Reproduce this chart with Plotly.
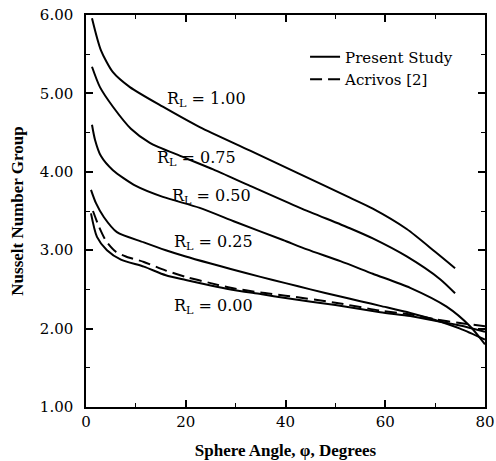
import plotly.graph_objects as go

# ---- data ----
phi_r100 = [1.2, 3.0, 5.4, 8.8, 15.4, 22.8, 32.9, 42.9, 52.9, 57.5, 64.3, 70.0, 74.0]
nu_r100 = [5.96, 5.55, 5.27, 5.08, 4.83, 4.57, 4.27, 3.97, 3.67, 3.53, 3.27, 2.98, 2.77]

phi_r075 = [1.2, 2.8, 5.4, 9.0, 12.8, 19.0, 25.5, 32.9, 42.9, 52.9, 57.5, 64.3, 71.0, 74.0]
nu_r075 = [5.34, 5.08, 4.83, 4.55, 4.37, 4.20, 4.03, 3.82, 3.54, 3.28, 3.15, 2.92, 2.63, 2.45]

phi_r050 = [1.2, 1.8, 3.0, 5.4, 10.0, 15.4, 22.8, 30.0, 39.5, 44.3, 51.0, 57.5, 65.0, 72.3, 77.0, 80.0]
nu_r050 = [4.60, 4.41, 4.20, 4.02, 3.82, 3.68, 3.54, 3.36, 3.13, 3.01, 2.86, 2.70, 2.52, 2.28, 2.03, 1.80]

phi_r025 = [1.0, 2.0, 3.6, 6.2, 11.6, 16.0, 20.0, 25.0, 29.0, 35.0, 40.0, 45.0, 51.0, 55.0, 59.0, 65.0, 70.0, 75.0, 80.0]
nu_r025 = [3.77, 3.60, 3.42, 3.23, 3.10, 3.00, 2.92, 2.83, 2.76, 2.66, 2.58, 2.50, 2.41, 2.35, 2.29, 2.20, 2.11, 2.00, 1.86]

phi_r000 = [1.0, 2.2, 4.2, 7.0, 11.6, 16.0, 20.0, 25.0, 29.0, 35.0, 40.0, 50.0, 59.0, 65.0, 70.0, 75.0, 80.0]
nu_r000 = [3.47, 3.17, 3.00, 2.88, 2.79, 2.68, 2.62, 2.55, 2.50, 2.44, 2.39, 2.30, 2.21, 2.16, 2.10, 2.04, 1.96]

phi_acrivos = [1.4, 2.6, 4.0, 6.0, 8.0, 11.6, 16.0, 20.0, 25.0, 29.0, 35.0, 40.0, 50.0, 59.0, 65.0, 70.0, 75.0, 80.0]
nu_acrivos = [3.50, 3.30, 3.12, 2.98, 2.92, 2.85, 2.74, 2.66, 2.58, 2.52, 2.46, 2.42, 2.33, 2.23, 2.18, 2.12, 2.07, 2.03]

label_text = ["R<sub>L</sub> = 1.00", "R<sub>L</sub> = 0.75", "R<sub>L</sub> = 0.50",
              "R<sub>L</sub> = 0.25", "R<sub>L</sub> = 0.00"]
label_phi = [15.8, 13.8, 16.8, 17.2, 17.2]
label_nu = [4.92, 4.17, 3.68, 3.10, 2.28]

x_ticks = [0, 20, 40, 60, 80]
y_ticks = [1.0, 2.0, 3.0, 4.0, 5.0, 6.0]

x_title = "<b>Sphere Angle, \u03c6, Degrees</b>"
y_title = "<b>Nusselt Number Group</b>"

FONT = "DejaVu Serif"
TITLE_FONT = "Liberation Serif"

fig = go.Figure()
solid = [(phi_r100, nu_r100), (phi_r075, nu_r075), (phi_r050, nu_r050),
         (phi_r025, nu_r025), (phi_r000, nu_r000)]
for i, (xs, ys) in enumerate(solid):
    fig.add_trace(go.Scatter(
        x=xs, y=ys, mode="lines", name="Present Study",
        legendgroup="ps", showlegend=(i == 0),
        line=dict(color="black", width=2, shape="spline", smoothing=0.7)))
fig.add_trace(go.Scatter(
    x=phi_acrivos, y=nu_acrivos, mode="lines", name="Acrivos [2]",
    line=dict(color="black", width=2, dash="12px,6px", shape="spline", smoothing=0.7)))

for t, xv, yv in zip(label_text, label_phi, label_nu):
    fig.add_annotation(x=xv, y=yv, text=t, showarrow=False, xanchor="left",
                       yanchor="middle", font=dict(family=FONT, size=16, color="black"))

axis_common = dict(
    showgrid=False, zeroline=False, showline=True, linecolor="black", linewidth=1.5,
    mirror="ticks", ticks="inside", ticklen=7, tickwidth=1.5, tickcolor="black",
    tickfont=dict(family=FONT, size=15, color="black"), automargin=False,
)

fig.update_xaxes(range=[0, 80], tickvals=x_ticks,
                 minor=dict(dtick=10, tick0=0, ticks="inside", ticklen=4, tickwidth=1.2, tickcolor="black"),
                 title=dict(text=x_title, font=dict(family=TITLE_FONT, size=17, color="black"), standoff=14),
                 **axis_common)
fig.update_yaxes(range=[1, 6], tickvals=y_ticks, tickformat=".2f",
                 minor=dict(dtick=0.5, tick0=1, ticks="inside", ticklen=4, tickwidth=1.2, tickcolor="black"),
                 ticklabelstandoff=8,
                 title=dict(text=y_title, font=dict(family=TITLE_FONT, size=17, color="black"), standoff=12),
                 **axis_common)

fig.update_layout(
    width=496, height=461,
    margin=dict(l=86, r=11, t=15, b=54, autoexpand=False),
    paper_bgcolor="white", plot_bgcolor="white",
    font=dict(family=FONT, color="black"),
    legend=dict(x=0.549, y=0.935, xanchor="left", yanchor="top",
                bgcolor="rgba(0,0,0,0)", font=dict(family=FONT, size=15, color="black"),
                tracegroupgap=0),
)

fig.write_html("out.html", config={"displayModeBar": False},
               post_script="document.body.style.margin='0';document.body.style.padding='0';")
